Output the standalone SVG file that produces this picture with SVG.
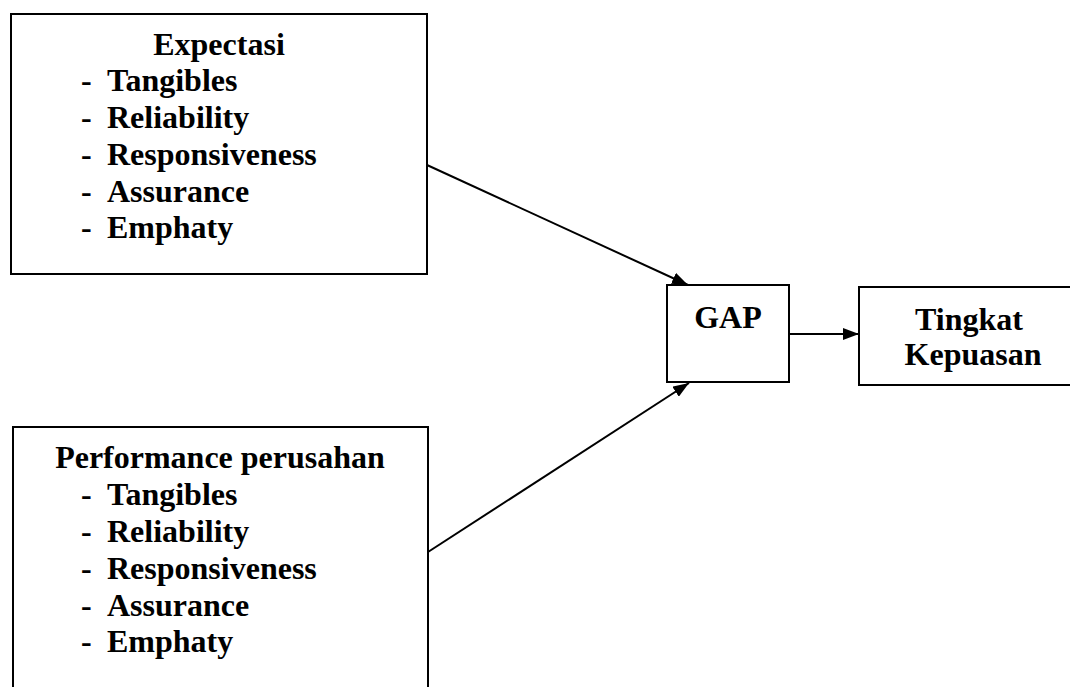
<svg xmlns="http://www.w3.org/2000/svg" width="1070" height="687" viewBox="0 0 1070 687">
<defs>
<style>
.box{fill:#fff;stroke:#000;stroke-width:2}
.t{font-family:"Liberation Serif","Times New Roman",serif;font-weight:bold;font-size:32px;fill:#000}
.c{text-anchor:middle}
.edge{stroke:#000;stroke-width:2;fill:none}
</style>
<marker id="ah" viewBox="0 0 16 12" refX="16" refY="6" markerWidth="16" markerHeight="12" markerUnits="userSpaceOnUse" orient="auto">
<path d="M0,0 L16,6 L0,12 Z" fill="#000"/>
</marker>
</defs>
<rect width="1070" height="687" fill="#fff"/>
<g id="expectasi">
<rect class="box" x="11" y="14" width="416" height="260"/>
<text class="t c" x="219" y="55">Expectasi</text>
<text class="t" x="81" y="91">-</text><text class="t" x="107" y="91">Tangibles</text>
<text class="t" x="81" y="128">-</text><text class="t" x="107" y="128">Reliability</text>
<text class="t" x="81" y="165">-</text><text class="t" x="107" y="165">Responsiveness</text>
<text class="t" x="81" y="202">-</text><text class="t" x="107" y="202">Assurance</text>
<text class="t" x="81" y="238">-</text><text class="t" x="107" y="238">Emphaty</text>
</g>
<g id="performance">
<rect class="box" x="13" y="427" width="415" height="270"/>
<text class="t c" x="220" y="468">Performance perusahan</text>
<text class="t" x="81" y="505">-</text><text class="t" x="107" y="505">Tangibles</text>
<text class="t" x="81" y="542">-</text><text class="t" x="107" y="542">Reliability</text>
<text class="t" x="81" y="579">-</text><text class="t" x="107" y="579">Responsiveness</text>
<text class="t" x="81" y="616">-</text><text class="t" x="107" y="616">Assurance</text>
<text class="t" x="81" y="652">-</text><text class="t" x="107" y="652">Emphaty</text>
</g>
<g id="gap">
<rect class="box" x="667" y="285" width="122" height="97"/>
<text class="t c" x="728" y="328">GAP</text>
</g>
<g id="tingkat">
<rect class="box" x="859" y="287" width="220" height="98"/>
<text class="t c" x="969" y="330">Tingkat</text>
<text class="t c" x="973" y="365">Kepuasan</text>
</g>
<g id="connectors">
<line class="edge" x1="427" y1="165" x2="688" y2="285" marker-end="url(#ah)"/>
<line class="edge" x1="428" y1="552" x2="689" y2="383" marker-end="url(#ah)"/>
<line class="edge" x1="789" y1="334" x2="859" y2="334" marker-end="url(#ah)"/>
</g>
</svg>
